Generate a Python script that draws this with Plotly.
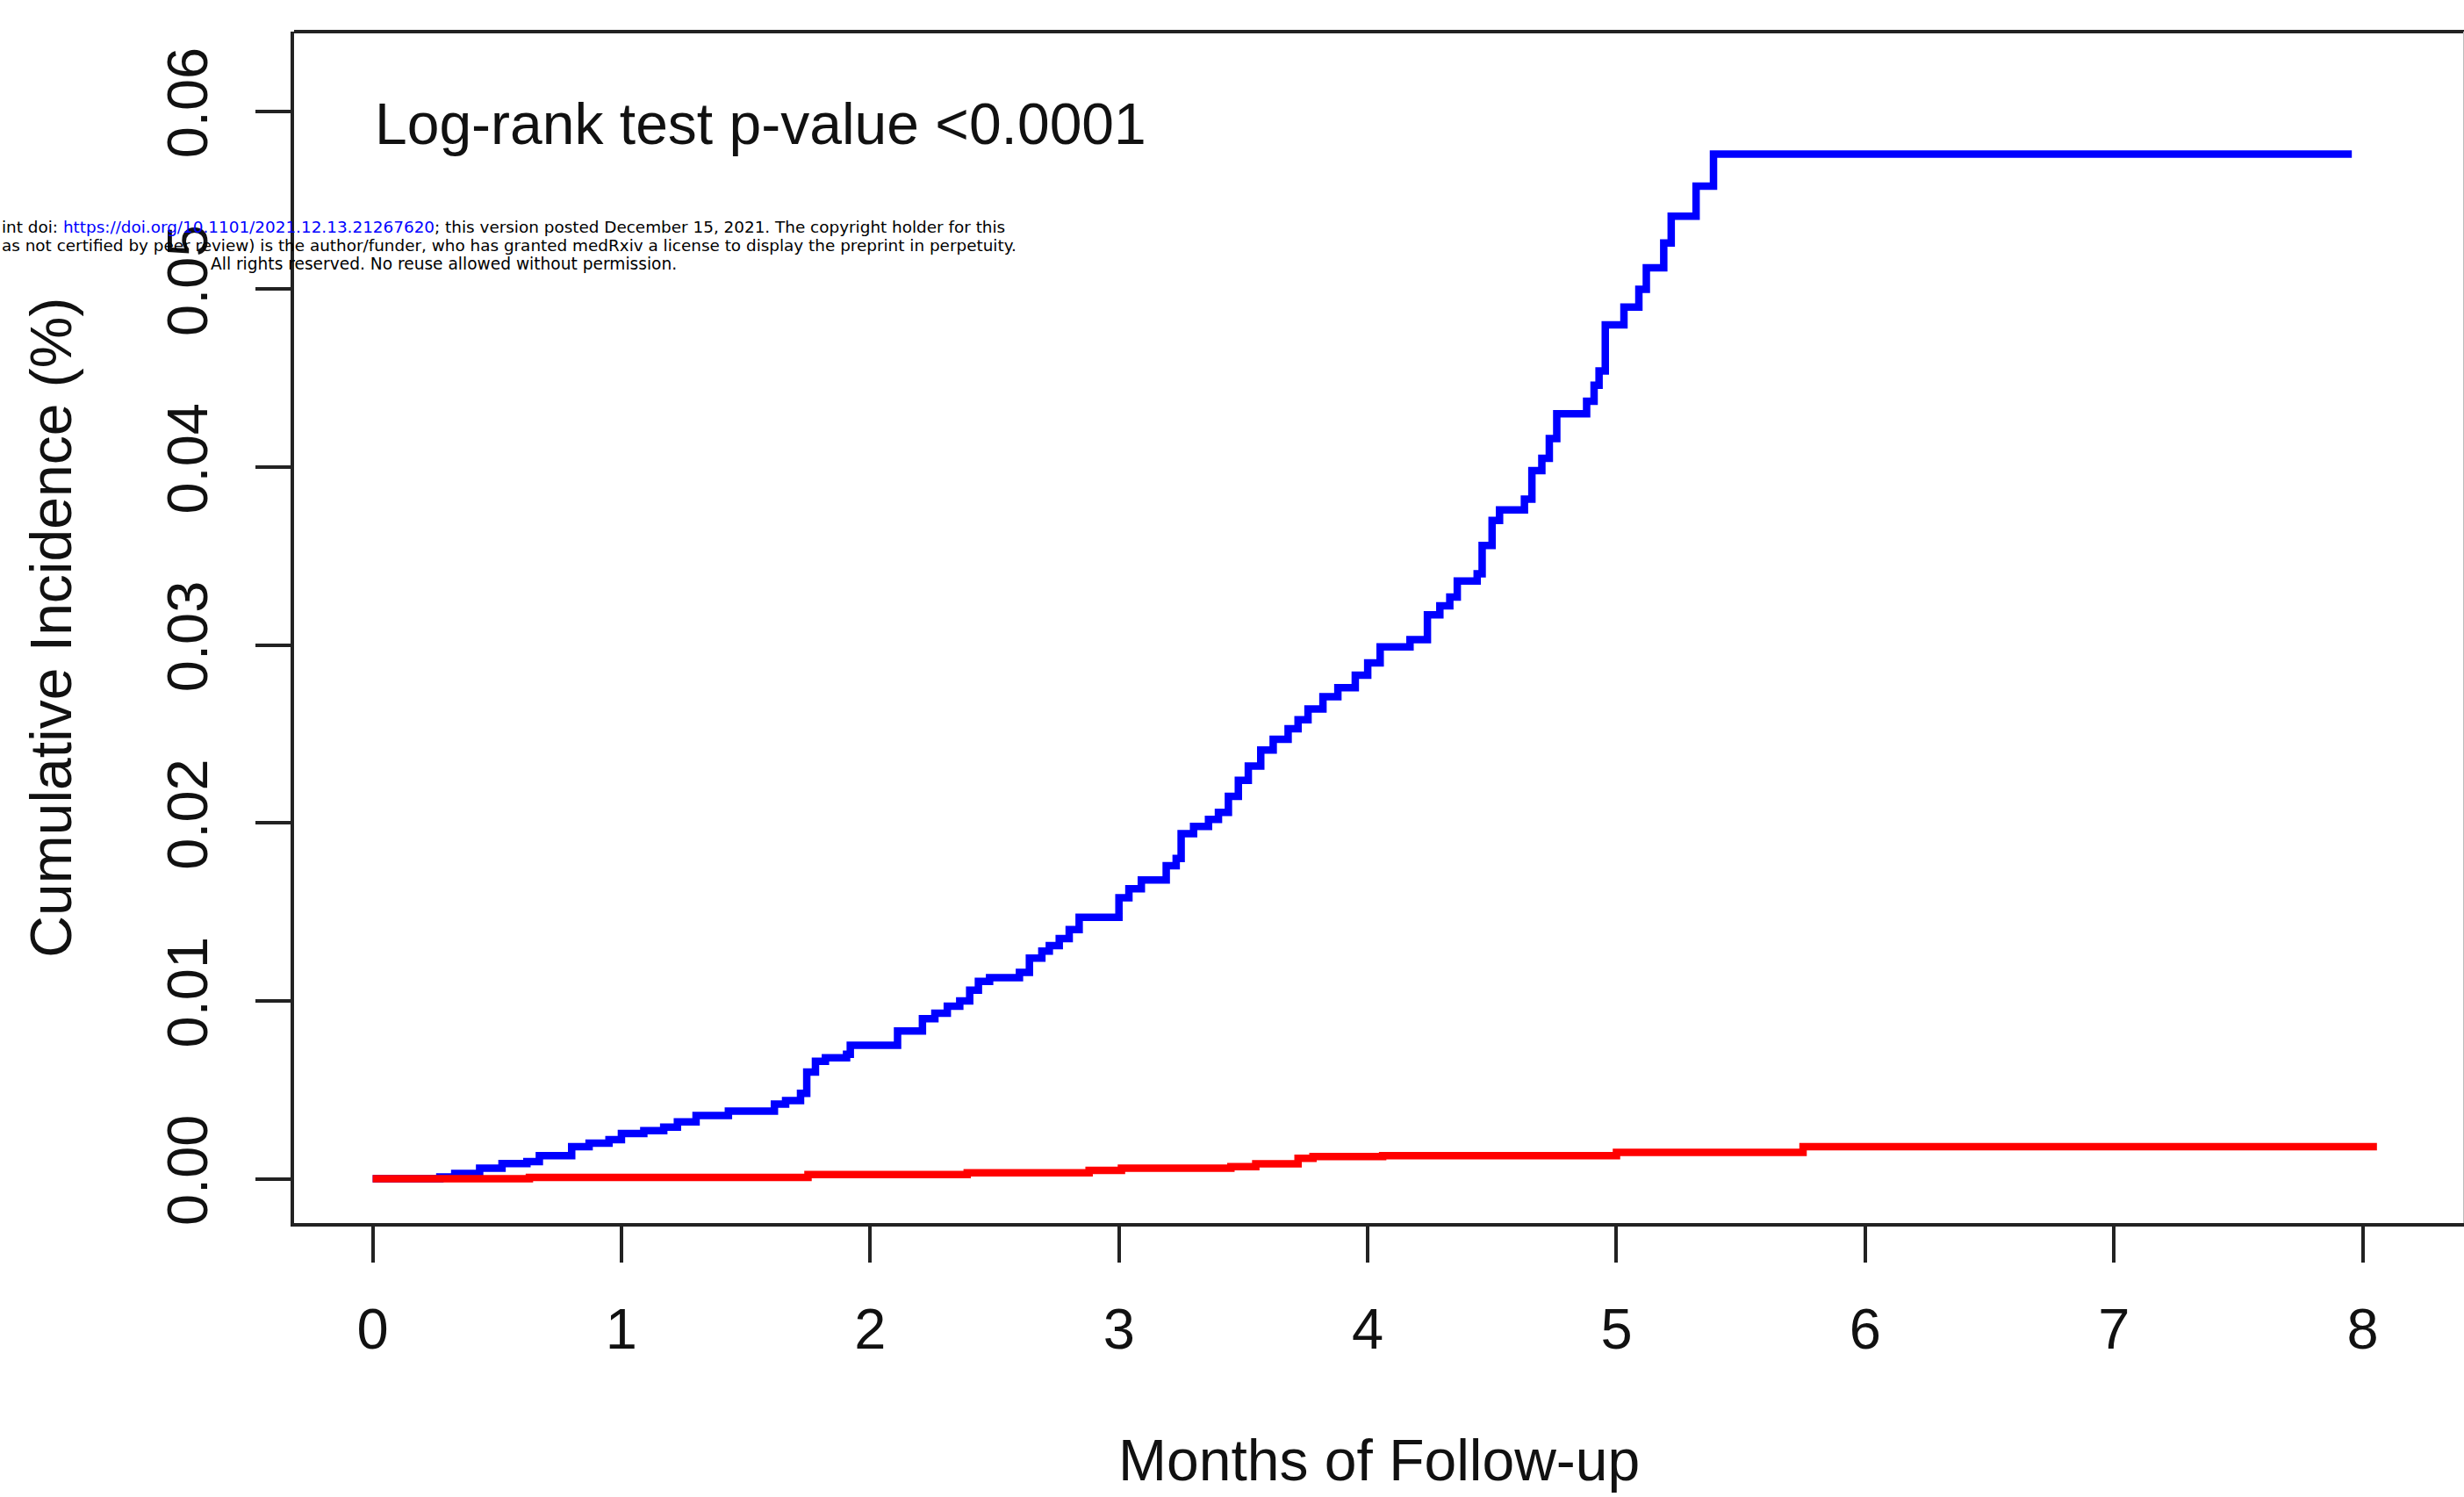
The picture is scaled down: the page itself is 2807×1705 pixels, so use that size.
import plotly.graph_objects as go

# curva acumulada, grupo azul (meses, incidencia)
meses_azul = [0, 0.27, 0.33, 0.43, 0.52, 0.62, 0.67, 0.80, 0.87, 0.95,
              1.00, 1.09, 1.17, 1.225, 1.30, 1.43, 1.615, 1.66, 1.72, 1.745, 1.78,
              1.82, 1.905, 1.92, 2.11, 2.21, 2.26, 2.31, 2.36, 2.40, 2.435,
              2.48, 2.60, 2.64, 2.69, 2.72, 2.76, 2.80, 2.84, 3.00, 3.04,
              3.09, 3.19, 3.23, 3.25, 3.30, 3.36, 3.40, 3.44, 3.48, 3.52,
              3.57, 3.62, 3.68, 3.72, 3.76, 3.82, 3.88, 3.95, 4.00, 4.05,
              4.17, 4.24, 4.29, 4.33, 4.36, 4.44, 4.46, 4.50, 4.53, 4.63,
              4.66, 4.70, 4.73, 4.76, 4.88, 4.91, 4.93, 4.955, 5.03, 5.09,
              5.12, 5.19, 5.22, 5.32, 5.39, 7.956]
inc_azul = [0, 0.0001, 0.0003, 0.0006, 0.00085, 0.00097, 0.0013, 0.0018, 0.0020, 0.0022,
            0.00255, 0.0027, 0.0029, 0.0032, 0.00355, 0.0038, 0.0042, 0.0044, 0.0048, 0.0060, 0.0066,
            0.0068, 0.0070, 0.0075, 0.0083, 0.0090, 0.0093, 0.0097, 0.0100, 0.0106, 0.0111,
            0.0113, 0.0116, 0.0124, 0.0128, 0.0131, 0.0135, 0.0140, 0.0147, 0.0158, 0.0163,
            0.0168, 0.0176, 0.0180, 0.0194, 0.0198, 0.0202, 0.0206, 0.0215, 0.0224, 0.0232,
            0.0241, 0.0247, 0.0253, 0.0258, 0.0264, 0.0271, 0.0276, 0.0283, 0.0290, 0.0299,
            0.0303, 0.0317, 0.0322, 0.0327, 0.0336, 0.0340, 0.0356, 0.0370, 0.0376, 0.0382,
            0.0398, 0.0405, 0.0416, 0.0430, 0.0437, 0.0446, 0.0454, 0.0480, 0.0490, 0.0500,
            0.0512, 0.0526, 0.0541, 0.0558, 0.0576, 0.0576]

# curva acumulada, grupo rojo
meses_rojo = [0, 0.63, 1.75, 2.39, 2.88, 3.01, 3.45, 3.55, 3.72, 3.78, 4.06, 5.00, 5.75, 8.057]
inc_rojo = [0, 0.00008, 0.00024, 0.00033, 0.00047, 0.0006, 0.00068, 0.00084,
            0.00115, 0.00125, 0.0013, 0.00148, 0.0018, 0.0018]

ticks_x = [0, 1, 2, 3, 4, 5, 6, 7, 8]
ticks_y = [0.00, 0.01, 0.02, 0.03, 0.04, 0.05, 0.06]
etiquetas_y = ["0.00", "0.01", "0.02", "0.03", "0.04", "0.05", "0.06"]

FUENTE = "Arial, Liberation Sans, Helvetica, sans-serif"

fig = go.Figure()
fig.add_trace(go.Scatter(x=meses_azul, y=inc_azul, mode="lines", line_shape="hv",
                         line=dict(color="#0000ff", width=8.5), showlegend=False))
fig.add_trace(go.Scatter(x=meses_rojo, y=inc_rojo, mode="lines", line_shape="hv",
                         line=dict(color="#ff0000", width=8.5), showlegend=False))

fig.update_layout(
    width=2807, height=1705,
    margin=dict(l=335, r=0, t=36, b=312),
    plot_bgcolor="white", paper_bgcolor="white",
    font=dict(family=FUENTE, size=65, color="#111111"),
)

fig.update_xaxes(range=[-0.316, 8.407], tickvals=ticks_x, ticks="outside", ticklen=41,
                 tickwidth=4, tickcolor="#222222", showline=True, linecolor="#222222",
                 linewidth=4, showgrid=False, zeroline=False, ticklabelstandoff=20,
                 tickfont=dict(size=65))
fig.update_yaxes(range=[-0.00249, 0.06448], tickvals=ticks_y, ticktext=etiquetas_y,
                 ticks="outside", ticklen=40, tickwidth=4, tickcolor="#222222",
                 showline=True, linecolor="#222222", linewidth=4, showgrid=False,
                 zeroline=False, tickangle=-90, ticklabelstandoff=29,
                 tickfont=dict(size=65))

# borde superior y derecho del marco
fig.add_shape(type="line", xref="paper", yref="paper", x0=0, x1=1, y0=1, y1=1,
              line=dict(color="#222222", width=4))
fig.add_shape(type="line", xref="paper", yref="paper", x0=1, x1=1, y0=0, y1=1,
              line=dict(color="#bbbbbb", width=2))

# titulos de ejes
fig.add_annotation(text="Months of Follow-up", xref="paper", yref="paper",
                   x=0.5, y=-0.199, xanchor="center", yanchor="middle",
                   showarrow=False, font=dict(size=66))
fig.add_annotation(text="Cumulative Incidence (%)", xref="paper", yref="paper",
                   x=-0.1124, y=0.5, xanchor="center", yanchor="middle", textangle=-90,
                   showarrow=False, font=dict(size=66))

# texto de la prueba
fig.add_annotation(text="Log-rank test p-value <0.0001", xref="x", yref="y",
                   x=0, y=0.0593, xanchor="left", yanchor="middle",
                   showarrow=False, font=dict(size=66))

# sello de medRxiv (lo visible de cada linea)
SELLO = "DejaVu Sans, sans-serif"
fig.add_annotation(text="int doi: <span style='color:#0000ff'>https://doi.org/10.1101/2021.12.13.21267620</span>; "
                        "this version posted December 15, 2021. The copyright holder for this",
                   xref="paper", yref="paper", x=(0 - 335) / 2472, y=(1393 - 258) / 1357,
                   xanchor="left", yanchor="middle", showarrow=False,
                   font=dict(family=SELLO, size=18.4, color="black"))
fig.add_annotation(text="as not certified by peer review) is the author/funder, who has granted medRxiv "
                        "a license to display the preprint in perpetuity.",
                   xref="paper", yref="paper", x=(0 - 335) / 2472, y=(1393 - 279) / 1357,
                   xanchor="left", yanchor="middle", showarrow=False,
                   font=dict(family=SELLO, size=18.4, color="black"))
fig.add_annotation(text="All rights reserved. No reuse allowed without permission.",
                   xref="paper", yref="paper", x=(505 - 335) / 2472, y=(1393 - 301) / 1357,
                   xanchor="center", yanchor="middle", showarrow=False,
                   font=dict(family=SELLO, size=18.6, color="black"))

# sin margen del body para que el grafico empiece en (0, 0)
fig.write_html("out.html", config={"displayModeBar": False},
               post_script="document.body.style.margin='0';")
